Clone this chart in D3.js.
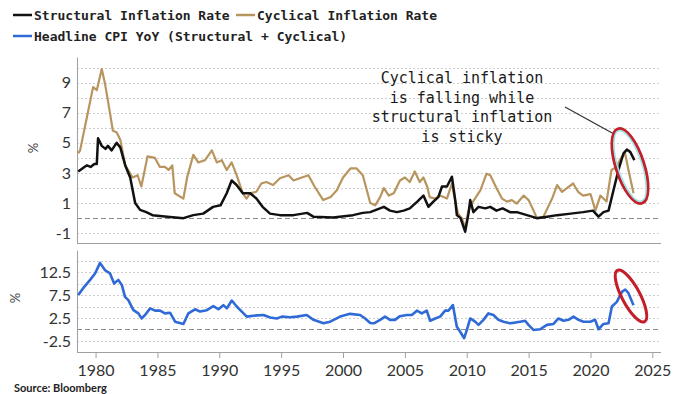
<!DOCTYPE html>
<html>
<head>
<meta charset="utf-8">
<script src="https://cdn.jsdelivr.net/npm/d3@7"></script>
<style>
  html, body { margin: 0; padding: 0; background: #fff; }
  svg { display: block; }
</style>
</head>
<body>
<div id="chart"></div>
<script>
// series: [decimal year, value %]
const structural = [
  [1978.6, 3.1], [1979.1, 3.4], [1979.3, 3.5], [1979.6, 3.4], [1979.9, 3.6], [1980.1, 3.6],
  [1980.2, 5.3], [1980.5, 4.8], [1980.8, 4.6], [1981.0, 4.8], [1981.3, 4.5], [1981.7, 5.0],
  [1982.0, 4.7], [1982.4, 3.5], [1982.8, 2.7], [1983.2, 1.0], [1983.6, 0.55], [1984.1, 0.4],
  [1984.6, 0.2], [1985.8, 0.1], [1987.1, 0.0], [1987.9, 0.2], [1988.7, 0.3], [1989.5, 0.75],
  [1990.1, 0.85], [1990.6, 1.65], [1991.0, 2.5], [1991.4, 2.2], [1991.9, 1.65], [1992.5, 1.65],
  [1993.0, 1.3], [1993.5, 0.75], [1994.1, 0.3], [1994.9, 0.2], [1996.0, 0.2], [1997.1, 0.35],
  [1997.6, 0.1], [1999.2, 0.05], [2000.8, 0.2], [2001.6, 0.35], [2002.2, 0.4], [2003.3, 0.75],
  [2003.8, 0.5], [2004.35, 0.4], [2004.9, 0.5], [2005.4, 0.65], [2006.0, 1.1], [2006.5, 1.5],
  [2006.9, 0.75], [2007.3, 1.1], [2007.7, 1.4], [2008.0, 2.1], [2008.4, 2.1], [2008.8, 2.75],
  [2009.07, 1.2], [2009.2, 0.2], [2009.5, 0.0], [2009.87, -0.9], [2010.14, 0.3], [2010.28, 1.2],
  [2010.54, 0.4], [2010.95, 0.75], [2011.5, 0.65], [2011.9, 0.75], [2012.4, 0.5], [2012.9, 0.65],
  [2013.5, 0.4], [2014.05, 0.4], [2014.86, 0.2], [2015.67, 0.0], [2016.5, 0.1], [2017.3, 0.2],
  [2018.4, 0.3], [2019.4, 0.4], [2020.2, 0.5], [2020.65, 0.1], [2021.05, 0.4], [2021.46, 0.5],
  [2021.86, 1.85], [2022.26, 3.2], [2022.67, 4.3], [2022.94, 4.55], [2023.21, 4.4], [2023.55, 3.85]
];

const cyclical = [
  [1978.6, 4.3], [1978.75, 4.5], [1979.3, 6.7], [1979.8, 8.7], [1980.1, 8.5], [1980.5, 9.9],
  [1980.77, 8.9], [1981.0, 7.8], [1981.4, 5.8], [1981.7, 5.7], [1982.0, 5.2], [1982.4, 3.5],
  [1983.0, 2.7], [1983.4, 2.85], [1983.7, 2.1], [1984.2, 4.1], [1984.8, 4.0], [1985.2, 3.4],
  [1985.6, 3.4], [1985.9, 3.2], [1986.2, 3.5], [1986.4, 1.65], [1987.1, 1.3], [1987.4, 2.7],
  [1987.9, 4.2], [1988.3, 3.7], [1988.85, 3.85], [1989.4, 4.5], [1989.8, 3.7], [1990.2, 3.85],
  [1990.6, 3.2], [1991.0, 3.7], [1991.4, 2.85], [1991.9, 1.65], [1992.2, 1.3], [1992.5, 1.65],
  [1993.0, 1.75], [1993.4, 2.3], [1993.8, 2.4], [1994.35, 2.2], [1994.9, 2.65], [1995.6, 2.85],
  [1996.0, 2.5], [1996.5, 2.65], [1997.2, 2.85], [1997.7, 2.1], [1998.4, 1.2], [1999.0, 1.4],
  [1999.5, 1.85], [2000.0, 2.7], [2000.6, 3.3], [2001.1, 3.3], [2001.6, 2.85], [2002.2, 1.0],
  [2002.6, 0.85], [2003.0, 1.4], [2003.3, 2.0], [2003.7, 1.5], [2004.1, 1.65], [2004.6, 2.5],
  [2005.0, 2.7], [2005.4, 2.4], [2005.8, 3.1], [2006.2, 2.4], [2006.5, 2.7], [2006.8, 2.1],
  [2007.0, 1.4], [2007.45, 1.3], [2007.85, 1.5], [2008.4, 1.3], [2008.8, 2.3], [2009.1, 1.0],
  [2009.3, 0.3], [2009.6, 0.0], [2009.9, -0.7], [2010.1, 0.4], [2010.4, 0.97], [2011.1, 1.85],
  [2011.6, 2.95], [2011.9, 2.85], [2012.4, 2.0], [2012.85, 1.3], [2013.25, 1.1], [2013.65, 1.2],
  [2014.05, 0.97], [2014.6, 1.5], [2015.0, 1.2], [2015.4, 0.5], [2015.67, 0.0], [2016.2, 0.1],
  [2016.9, 1.3], [2017.3, 2.2], [2017.7, 1.75], [2018.1, 2.0], [2018.6, 2.3], [2019.0, 1.75],
  [2019.4, 1.5], [2020.0, 1.6], [2020.4, 0.5], [2020.8, 1.5], [2021.3, 1.1], [2021.7, 3.2],
  [2022.1, 3.4], [2022.5, 4.05], [2022.8, 4.3], [2023.07, 3.2], [2023.48, 1.65]
];

const headline = [
  [1978.6, 7.5], [1979.0, 9.0], [1979.56, 10.8], [1979.96, 12.2], [1980.36, 14.5], [1980.77, 12.9],
  [1981.17, 12.2], [1981.5, 10.0], [1981.84, 10.8], [1982.12, 9.7], [1982.38, 7.1], [1982.65, 6.4],
  [1983.06, 4.2], [1983.46, 3.5], [1983.73, 2.4], [1984.0, 3.15], [1984.41, 4.6], [1984.81, 4.1],
  [1985.21, 4.1], [1985.61, 3.5], [1986.02, 3.65], [1986.43, 1.7], [1987.1, 1.2], [1987.5, 3.5],
  [1988.04, 4.4], [1988.45, 3.9], [1988.99, 4.2], [1989.52, 5.1], [1989.93, 4.4], [1990.33, 5.3],
  [1990.61, 4.6], [1991.01, 6.3], [1991.41, 5.0], [1991.82, 3.9], [1992.22, 2.8], [1992.76, 3.0],
  [1993.57, 3.15], [1994.11, 2.6], [1994.65, 2.4], [1995.05, 2.8], [1995.72, 2.65], [1996.27, 2.8],
  [1997.07, 3.15], [1997.61, 2.1], [1998.42, 1.35], [1998.96, 1.7], [1999.77, 2.8], [2000.57, 3.4],
  [2001.38, 3.15], [2001.79, 2.4], [2002.2, 1.4], [2002.5, 1.35], [2003.0, 2.1], [2003.4, 2.8],
  [2003.8, 2.1], [2004.2, 2.1], [2004.6, 2.9], [2005.16, 3.15], [2005.56, 3.15], [2005.97, 4.1],
  [2006.37, 3.5], [2006.77, 4.1], [2007.04, 1.9], [2007.45, 2.4], [2007.85, 2.8], [2008.25, 4.1],
  [2008.52, 4.1], [2008.88, 5.3], [2009.2, 0.6], [2009.47, -0.5], [2009.79, -1.9], [2010.01, -0.1],
  [2010.28, 2.4], [2010.68, 1.7], [2010.95, 1.0], [2011.35, 2.1], [2011.75, 3.5], [2012.16, 3.15],
  [2012.56, 2.1], [2012.97, 1.7], [2013.51, 1.35], [2013.91, 1.5], [2014.32, 1.7], [2014.72, 1.9],
  [2014.99, 1.0], [2015.39, -0.1], [2015.93, 0.05], [2016.48, 1.0], [2017.01, 1.2], [2017.41, 2.4],
  [2017.82, 1.9], [2018.22, 2.1], [2018.63, 2.8], [2019.03, 2.1], [2019.43, 1.7], [2019.98, 1.7],
  [2020.38, 2.1], [2020.65, 0.05], [2021.05, 1.2], [2021.46, 1.35], [2021.73, 5.0], [2022.13, 6.0],
  [2022.54, 8.2], [2022.81, 8.7], [2023.07, 7.9], [2023.48, 5.3]
];

const xTicks = [1980, 1985, 1990, 1995, 2000, 2005, 2010, 2015, 2020, 2025];
const topGrid = [-1, 0, 1, 2, 3, 4, 5, 6, 7, 8, 9, 10];
const topLabels = [-1, 1, 3, 5, 7, 9];
const bottomGrid = [-2.5, 0, 2.5, 5, 7.5, 10, 12.5, 15];
const bottomLabels = [-2.5, 2.5, 7.5, 12.5];
const noteLines = ['Cyclical inflation', 'is falling while', 'structural inflation', 'is sticky'];

const width = 700;
const height = 394;
const left = 77;
const right = 661;

const colors = { structural: '#111111', cyclical: '#b8955f', headline: '#2f6ad6' };
const mono = '"DejaVu Sans Mono", "Liberation Mono", monospace';
const tickFont = 'Lato, "Open Sans", sans-serif';

const svg = d3.select('#chart').append('svg')
  .attr('width', width)
  .attr('height', height);

const x = d3.scaleLinear().domain([1978.5, 2025.7]).range([left, right]);
const yTop = d3.scaleLinear().domain([-1.65, 10.7]).range([243, 57]);
const yBot = d3.scaleLinear().domain([-4.9, 17.3]).range([352, 250]);

function drawPanel(y, grid, labels, pctPos) {
  const g = svg.append('g');

  // dotted gridlines, dashed zero line
  g.selectAll('line.grid')
    .data(grid)
    .join('line')
    .attr('class', 'grid')
    .attr('x1', left).attr('x2', right)
    .attr('y1', d => Math.round(y(d)) + 0.5)
    .attr('y2', d => Math.round(y(d)) + 0.5)
    .attr('stroke', d => d === 0 ? '#8a8a8a' : '#cfcfcf')
    .attr('stroke-width', 1)
    .attr('stroke-dasharray', d => d === 0 ? '5,3' : '2,2');

  const axis = d3.axisLeft(y).tickValues(labels).tickSize(0).tickPadding(6)
    .tickFormat(d => String(d));
  const ag = g.append('g').attr('transform', `translate(${left},0)`).call(axis);
  ag.select('.domain').attr('stroke', '#a0a0a0');
  ag.selectAll('text')
    .attr('font-family', tickFont)
    .attr('font-size', 16)
    .attr('fill', '#333');

  // rotated % sign
  g.append('text')
    .attr('transform', `translate(${pctPos[0]},${pctPos[1]}) rotate(-90)`)
    .attr('text-anchor', 'middle')
    .attr('font-family', tickFont)
    .attr('font-size', 13)
    .attr('fill', '#444')
    .text('%');
  return g;
}

const topPanel = drawPanel(yTop, topGrid, topLabels, [38, 148]);
const botPanel = drawPanel(yBot, bottomGrid, bottomLabels, [20, 298]);

// bottom border of the top panel
topPanel.append('line')
  .attr('x1', left).attr('x2', right)
  .attr('y1', 243.5).attr('y2', 243.5)
  .attr('stroke', '#a0a0a0');

// x axis under the bottom panel
const xAxis = d3.axisBottom(x).tickValues(xTicks).tickSize(6).tickPadding(7)
  .tickFormat(d3.format('d'));
const xg = svg.append('g').attr('transform', 'translate(0,352)').call(xAxis);
xg.select('.domain').attr('stroke', '#a0a0a0').attr('d', `M${left},0.5H${right}`);
xg.selectAll('.tick line').attr('stroke', '#a0a0a0');
xg.selectAll('text')
  .attr('font-family', tickFont)
  .attr('font-size', 16)
  .attr('fill', '#333');

const lineTop = d3.line().x(d => x(d[0])).y(d => yTop(d[1]));
const lineBot = d3.line().x(d => x(d[0])).y(d => yBot(d[1]));

topPanel.append('path')
  .datum(cyclical)
  .attr('d', lineTop)
  .attr('fill', 'none')
  .attr('stroke', colors.cyclical)
  .attr('stroke-width', 2.2)
  .attr('stroke-linejoin', 'round');

topPanel.append('path')
  .datum(structural)
  .attr('d', lineTop)
  .attr('fill', 'none')
  .attr('stroke', colors.structural)
  .attr('stroke-width', 2.5)
  .attr('stroke-linejoin', 'round');

botPanel.append('path')
  .datum(headline)
  .attr('d', lineBot)
  .attr('fill', 'none')
  .attr('stroke', colors.headline)
  .attr('stroke-width', 2.6)
  .attr('stroke-linejoin', 'round');

// legend
const legendItems = [
  { label: 'Structural Inflation Rate', color: colors.structural, x: 13, y: 20 },
  { label: 'Cyclical Inflation Rate', color: colors.cyclical, x: 236, y: 20 },
  { label: 'Headline CPI YoY (Structural + Cyclical)', color: colors.headline, x: 13, y: 41 }
];
const legend = svg.append('g')
  .selectAll('g')
  .data(legendItems)
  .join('g')
  .attr('transform', d => `translate(${d.x},${d.y})`);
legend.append('line')
  .attr('x1', 0).attr('x2', 19)
  .attr('y1', -5).attr('y2', -5)
  .attr('stroke', d => d.color)
  .attr('stroke-width', 2.5);
legend.append('text')
  .attr('x', 21)
  .attr('font-family', mono)
  .attr('font-weight', 'bold')
  .attr('font-size', 13)
  .attr('fill', '#222')
  .text(d => d.label);

// annotation
svg.append('g')
  .selectAll('text')
  .data(noteLines)
  .join('text')
  .attr('x', 462)
  .attr('y', (d, i) => 83 + i * 19.7)
  .attr('text-anchor', 'middle')
  .attr('font-family', mono)
  .attr('font-size', 15)
  .attr('fill', '#1a1a1a')
  .text(d => d);

svg.append('line')
  .attr('x1', 565).attr('y1', 107)
  .attr('x2', 614).attr('y2', 134)
  .attr('stroke', '#333')
  .attr('stroke-width', 1.2);

// highlight ellipses round the latest readings
const topRing = svg.append('g').attr('transform', 'translate(630,166) rotate(-18)');
topRing.append('ellipse').attr('rx', 14).attr('ry', 39)
  .attr('fill', 'none').attr('stroke', '#c41e2a').attr('stroke-width', 3.2);
topRing.append('ellipse').attr('rx', 12).attr('ry', 37)
  .attr('fill', 'none').attr('stroke', '#9fe3e3').attr('stroke-width', 1.6);

svg.append('ellipse')
  .attr('transform', 'translate(631,296) rotate(-28)')
  .attr('rx', 9).attr('ry', 29)
  .attr('fill', 'none').attr('stroke', '#c41e2a').attr('stroke-width', 3);

// source line at the very bottom edge
svg.append('text')
  .attr('x', 14).attr('y', 392)
  .attr('font-family', tickFont)
  .attr('font-weight', 'bold')
  .attr('font-size', 11)
  .attr('fill', '#222')
  .text('Source: Bloomberg');
</script>
</body>
</html>
